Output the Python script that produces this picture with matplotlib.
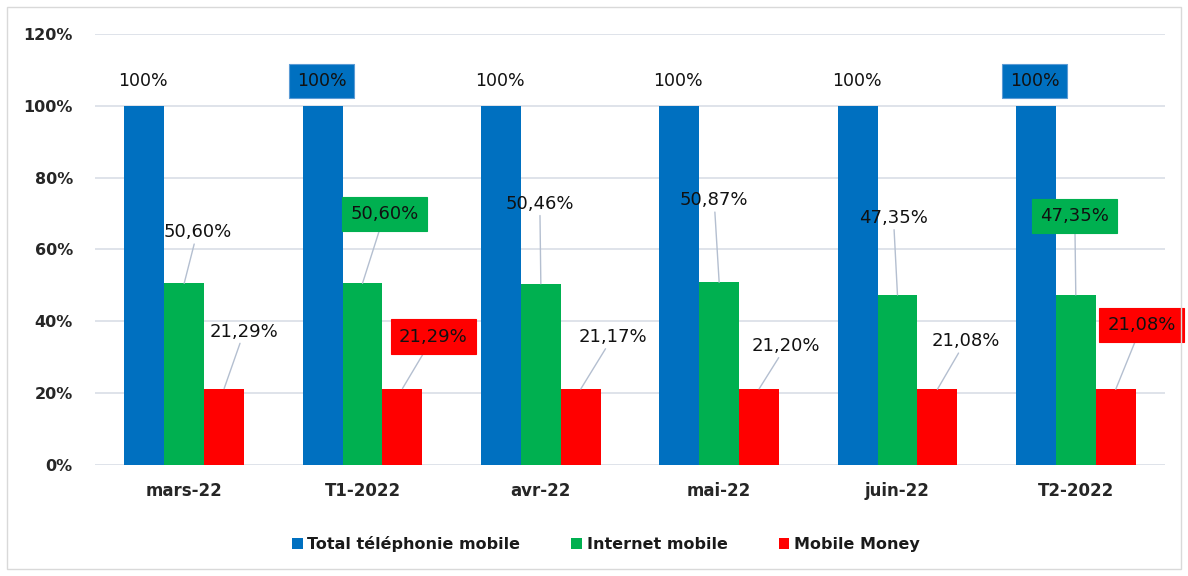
import matplotlib.pyplot as plt
from matplotlib.patches import Rectangle
import numpy as np

# Data
categories = ['mars-22', 'T1-2022', 'avr-22', 'mai-22', 'juin-22', 'T2-2022']
total_mobile = [1.0, 1.0, 1.0, 1.0, 1.0, 1.0]
internet_mobile = [0.5060, 0.5060, 0.5046, 0.5087, 0.4735, 0.4735]
mobile_money = [0.2129, 0.2129, 0.2117, 0.2120, 0.2108, 0.2108]
series_names = ['Total téléphonie mobile', 'Internet mobile', 'Mobile Money']
yticks = [0, 0.2, 0.4, 0.6, 0.8, 1.0, 1.2]

# Styling / layout
colors = ['#0070C0', '#00B050', '#FF0000']
boxed = ['T1-2022', 'T2-2022']  # quarter labels drawn in coloured boxes
# label offsets from bar tops, in pixels (dx, dy)
green_offsets = [(13, 51), (22, 69), (-1, 80), (-5, 82), (-4, 77), (-1, 79)]
red_offsets = [(20, 57), (31, 52), (32, 52), (27, 43), (28, 48), (26, 64)]
blue_offset = (-1, 25)


def fmt(v):
    if v >= 0.9999:
        return '100%'
    return f'{v * 100:.2f}%'.replace('.', ',')


fig = plt.figure(figsize=(11.88, 5.76), dpi=100)
ax = fig.add_axes([0.080, 0.1927, 0.9006, 0.7483])

x = np.arange(len(categories))
w = 0.224
series = [total_mobile, internet_mobile, mobile_money]
for i, (vals, name, col) in enumerate(zip(series, series_names, colors)):
    ax.bar(x + (i - 1) * w, vals, width=w, color=col, label=name, zorder=2)

ax.set_xlim(-0.5, len(categories) - 0.5)
ax.set_ylim(0, 1.2)
ax.set_yticks(yticks)
ax.set_yticklabels([f'{int(round(t * 100))}%' for t in yticks],
                   fontsize=11.5, fontweight='bold', color='#262626')
ax.set_xticks(x)
ax.set_xticklabels(categories, fontsize=12, fontweight='bold', color='#262626')
ax.tick_params(length=0, pad=12)
ax.tick_params(axis='y', pad=16)
ax.grid(axis='y', color='#d9dee6', linewidth=1.2, zorder=0)
for s in ax.spines.values():
    s.set_visible(False)

leader = dict(arrowstyle='-', color='#b4bfd0', lw=1, shrinkA=0, shrinkB=0)

for j, cat in enumerate(categories):
    box = cat in boxed
    # blue labels
    kw = {}
    if box:
        kw['bbox'] = dict(boxstyle='square,pad=0.45', fc=colors[0], ec='#5b9bd5', lw=0.8)
    ax.annotate(fmt(total_mobile[j]), (x[j] - w, total_mobile[j]),
                xytext=blue_offset, textcoords='offset pixels',
                ha='center', va='center', fontsize=12.5, color='#111111', **kw)
    # green and red labels with leader lines
    for vals, off, k in [(internet_mobile, green_offsets, 1), (mobile_money, red_offsets, 2)]:
        kw = {}
        if box:
            kw['bbox'] = dict(boxstyle='square,pad=0.45', fc=colors[k], ec=colors[k], lw=0.8)
        ax.annotate(fmt(vals[j]), (x[j] + (k - 1) * w, vals[j]),
                    xytext=off[j], textcoords='offset pixels',
                    ha='center', va='center', fontsize=13, color='#111111',
                    arrowprops=leader, zorder=3, **kw)

leg = fig.legend(loc='center', bbox_to_anchor=(0.51, 0.055), ncol=3, frameon=False,
                 handlelength=0.65, handleheight=0.65, handletextpad=0.3,
                 columnspacing=3.2, prop={'size': 11.5, 'weight': 'bold'})
for t in leg.get_texts():
    t.set_color('#1a1a1a')

# light border around the chart area
fig.patches.append(Rectangle((0.006, 0.012), 0.988, 0.976, transform=fig.transFigure,
                             fill=False, ec='#d9d9d9', lw=1))

fig.savefig('out.png', dpi=100)
